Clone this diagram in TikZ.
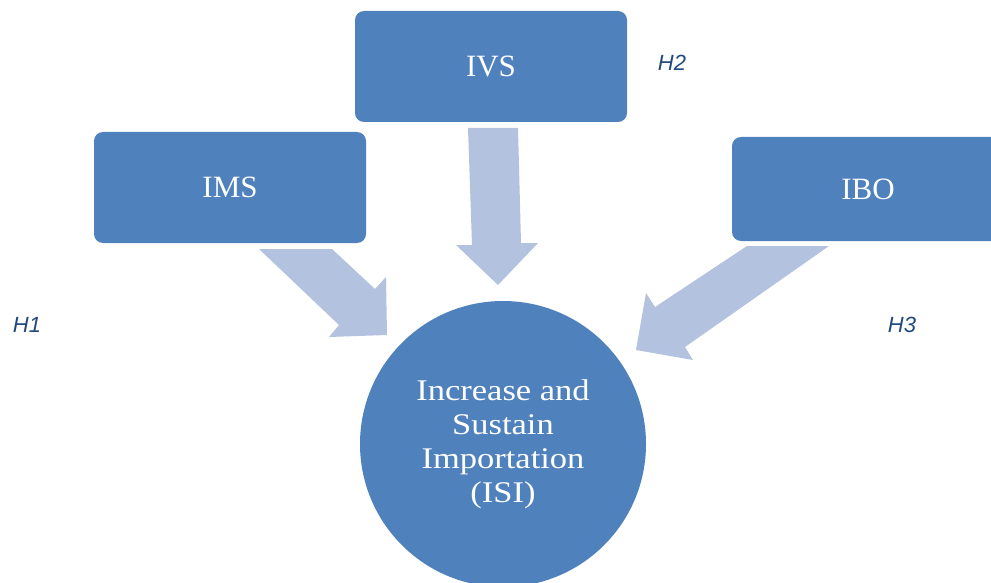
\documentclass[tikz,border=0pt]{standalone}
\usepackage{fontspec}
\setmainfont{Liberation Serif}
\newfontfamily\circfont[FakeStretch=1.15]{Liberation Serif}
\newfontfamily\hypfont{Liberation Sans}
\usetikzlibrary{calc}
\definecolor{boxblue}{HTML}{4F81BD}
\definecolor{arrowblue}{HTML}{B3C2DE}
\definecolor{hypblue}{HTML}{1F497D}
\tikzset{
    hbox/.style={fill=boxblue, rounded corners=9pt, text=white,
        minimum width=272pt, font=\fontsize{31}{36}\selectfont},
    harrow/.style={fill=arrowblue},
    hyp/.style={text=hypblue, font=\hypfont\itshape\fontsize{22}{26}\selectfont}
}

\begin{document}
\begin{tikzpicture}[x=1pt,y=-1pt]
\useasboundingbox (0,0) rectangle (991,583);
\clip (0,0) rectangle (991,583);
\node[hbox, minimum height=111pt] (ivs) at (491,66.5) {IVS};
\node[hbox, minimum height=111pt] (ims) at (230,187.5) {IMS};
\node[hbox, minimum height=104pt] (ibo) at (868,189) {IBO};
\node[circle, fill=boxblue, minimum size=286pt, text=white, align=center,
    font=\circfont\fontsize{30}{34}\selectfont] (isi) at (503,444)
    {Increase and\\Sustain\\Importation\\(ISI)};
\fill[harrow] (468,128) -- (518,128) -- (521,243) -- (538,243) -- (498,285) -- (456,245) -- (472,245) -- cycle;
\fill[harrow] (259,249) -- (332,249) -- (375,289) -- (386,277) -- (387,335) -- (329,337) -- (339,325) -- cycle;
\fill[harrow] (829,246) -- (747,246) -- (655,307) -- (646,293) -- (636,350) -- (693,360) -- (685,347) -- cycle;
\node[hyp] (h1) at (27,325) {H1};
\node[hyp] (h2) at (672,63) {H2};
\node[hyp] (h3) at (902,325) {H3};
\end{tikzpicture}
\end{document}
